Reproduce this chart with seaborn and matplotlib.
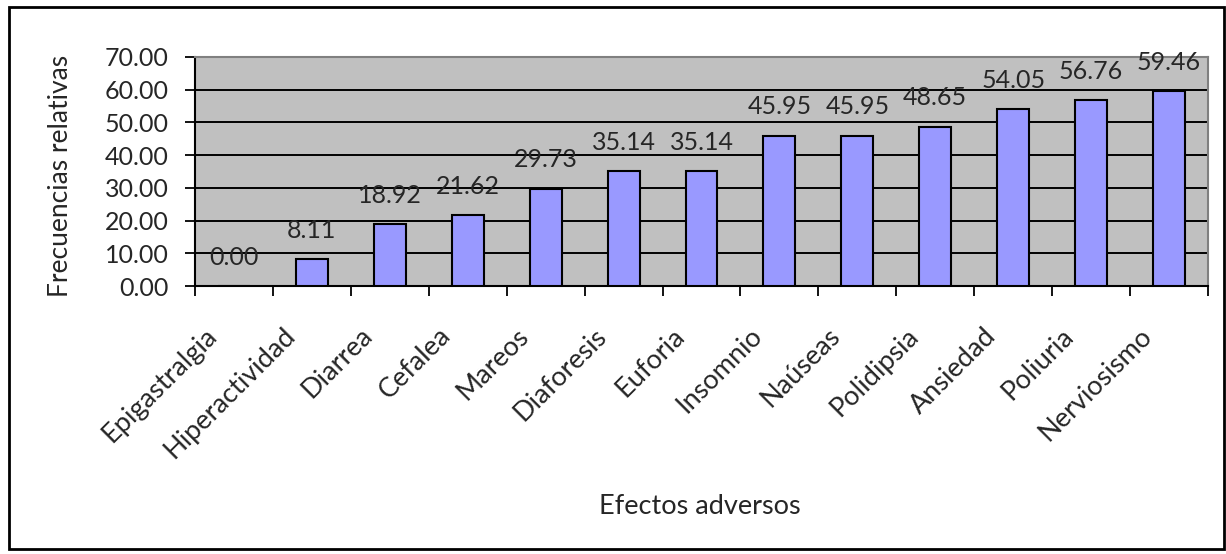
import matplotlib
matplotlib.use("Agg")
import matplotlib.pyplot as plt
from matplotlib.patches import Rectangle
from matplotlib.ticker import FixedLocator, FormatStrFormatter, NullFormatter
from matplotlib.transforms import ScaledTranslation
import seaborn as sns
import pandas as pd

# Adverse effects and their relative frequencies (%)
efectos = ["Epigastralgia", "Hiperactividad", "Diarrea", "Cefalea", "Mareos",
           "Diaforesis", "Euforia", "Insomnio", "Naúseas", "Polidipsia",
           "Ansiedad", "Poliuria", "Nerviosismo"]
frecuencias = [0.00, 8.11, 18.92, 21.62, 29.73, 35.14, 35.14,
               45.95, 45.95, 48.65, 54.05, 56.76, 59.46]
y_ticks = [0, 10, 20, 30, 40, 50, 60, 70]

df = pd.DataFrame({"efecto": efectos, "frecuencia": frecuencias})

sns.set_style("white")
plt.rcParams["font.family"] = ["Lato", "DejaVu Sans"]
FS_NUM = 18
FS_TXT = 19.5

fig = plt.figure(figsize=(12.26, 5.54), dpi=100)
ax = fig.add_axes([195 / 1226, 1 - 286 / 554, (1208 - 195) / 1226, (286 - 57) / 554])

sns.barplot(data=df, x="efecto", y="frecuencia", color="#9999FF",
            edgecolor="black", linewidth=1.5, width=0.41, saturation=1,
            ax=ax, zorder=3)

ax.set_facecolor("#C0C0C0")
ax.set_xlim(-0.5, len(efectos) - 0.5)
ax.set_ylim(0, 70)
ax.set_yticks(y_ticks)
ax.yaxis.set_major_formatter(FormatStrFormatter("%.2f"))
ax.yaxis.grid(True, color="black", linewidth=1.4, zorder=1)
ax.set_axisbelow(True)

# Category boundaries carry the tick marks, labels sit at the centres
ax.xaxis.set_major_locator(FixedLocator([i - 0.5 for i in range(len(efectos) + 1)]))
ax.xaxis.set_major_formatter(NullFormatter())
ax.xaxis.set_minor_locator(FixedLocator(list(range(len(efectos)))))
ax.set_xticklabels(efectos, minor=True, rotation=45, ha="right", va="center",
                   rotation_mode="anchor", fontsize=FS_TXT)
ax.tick_params(axis="x", which="minor", length=0, pad=33)
ax.tick_params(axis="x", which="major", length=7, width=1.3, color="black",
               direction="out", bottom=True)
ax.tick_params(axis="y", length=7, width=1.3, color="black", direction="out",
               left=True, labelsize=FS_NUM, pad=12)
shift = ScaledTranslation(-21 / 100, 0, fig.dpi_scale_trans)
for lbl in ax.get_xticklabels(minor=True):
    lbl.set_transform(lbl.get_transform() + shift)

for side in ["left", "bottom"]:
    ax.spines[side].set_color("black")
    ax.spines[side].set_linewidth(1.5)
for side in ["top", "right"]:
    ax.spines[side].set_color("#808080")
    ax.spines[side].set_linewidth(1.5)

ax.set_xlabel("")
ax.set_ylabel("")
fig.text(700 / 1226, 1 - 507 / 554, "Efectos adversos", ha="center",
         va="center", fontsize=FS_TXT)
fig.text(60 / 1226, 1 - 176 / 554, "Frecuencias relativas", ha="center",
         va="center", rotation=90, fontsize=19)

ax.bar_label(ax.containers[0], labels=[f"{v:.2f}" for v in frecuencias],
             padding=12.5, fontsize=FS_NUM, zorder=5)

# Chart area frame
fig.patches.append(Rectangle((9 / 1226, 1 - 549 / 554), (1224 - 9) / 1226,
                             (549 - 7) / 554, transform=fig.transFigure,
                             fill=False, edgecolor="black", linewidth=2))

fig.savefig("out.png", dpi=100)
